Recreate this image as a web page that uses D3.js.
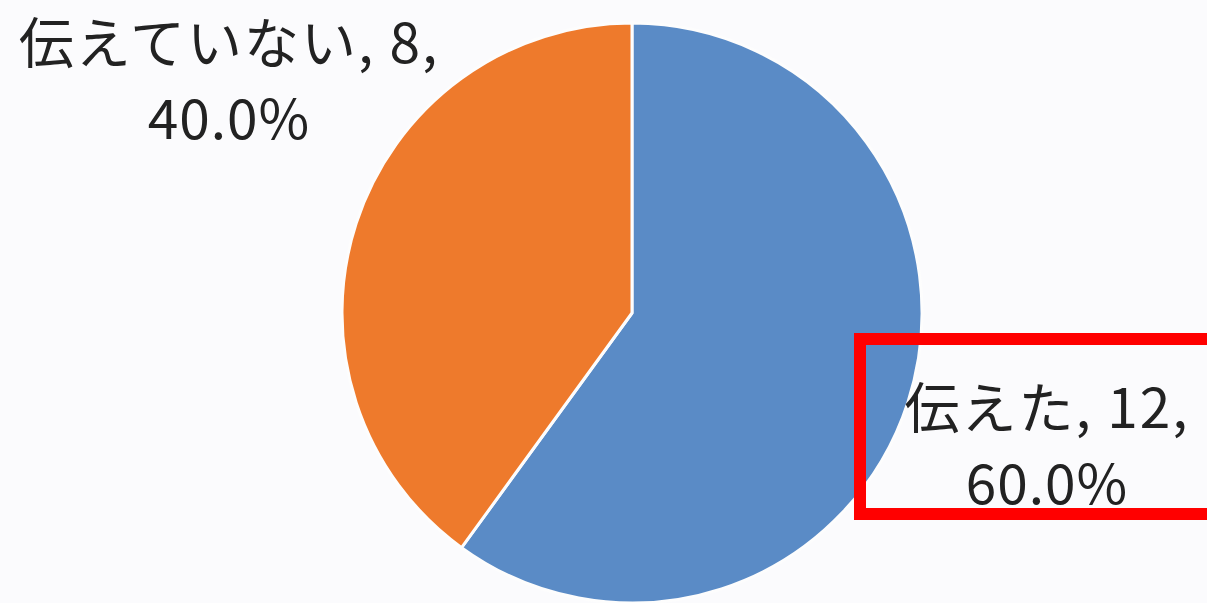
<!DOCTYPE html>
<html>
<head>
<meta charset="utf-8">
<script src="https://cdn.jsdelivr.net/npm/d3@7"></script>
<style>
  html, body { margin: 0; padding: 0; background: #fbfbfd; }
  svg { display: block; }
</style>
</head>
<body>
<svg id="chart" width="1207" height="603"></svg>
<script>
// Survey answers: told / did not tell
const categories = ["伝えた", "伝えていない"];
const counts = [12, 8];
const colors = ["#5a8bc6", "#ee7a2c"];

const W = 1207, H = 603;
const cx = 632, cy = 313, R = 290;

const svg = d3.select("#chart");
svg.append("rect").attr("width", W).attr("height", H).attr("fill", "#fbfbfd");

const total = d3.sum(counts);
const data = categories.map((c, i) => ({ name: c, value: counts[i], color: colors[i] }));

const pie = d3.pie().value(d => d.value).sort(null);
const arc = d3.arc().innerRadius(0).outerRadius(R);

const g = svg.append("g").attr("transform", `translate(${cx},${cy})`);
g.selectAll("path")
  .data(pie(data))
  .join("path")
  .attr("d", arc)
  .attr("fill", d => d.data.color)
  .attr("stroke", "#fdfdfd")
  .attr("stroke-width", 3)
  .attr("stroke-linejoin", "round");

// Data labels: "name, count," on the first line, percentage below
const labelPos = [
  { x: 1047, y1: 428, y2: 504 },  // 伝えた
  { x: 229, y1: 63, y2: 139 }     // 伝えていない
];
const fmt = d3.format(".1f");
const labels = svg.append("g")
  .attr("font-family", "'Noto Sans CJK JP', 'Noto Sans', sans-serif")
  .attr("font-size", 55)
  .attr("fill", "#222")
  .attr("text-anchor", "middle");

data.forEach((d, i) => {
  const p = labelPos[i];
  labels.append("text").attr("x", p.x).attr("y", p.y1)
    .attr("letter-spacing", 2)
    .text(`${d.name}, ${d.value},`);
  labels.append("text").attr("x", p.x).attr("y", p.y2)
    .attr("letter-spacing", 1)
    .text(`${fmt(d.value / total * 100)}%`);
});

// Highlight box around the 伝えた label
svg.append("rect")
  .attr("x", 860).attr("y", 339)
  .attr("width", 400).attr("height", 175)
  .attr("fill", "none")
  .attr("stroke", "#ff0000")
  .attr("stroke-width", 12);
</script>
</body>
</html>
